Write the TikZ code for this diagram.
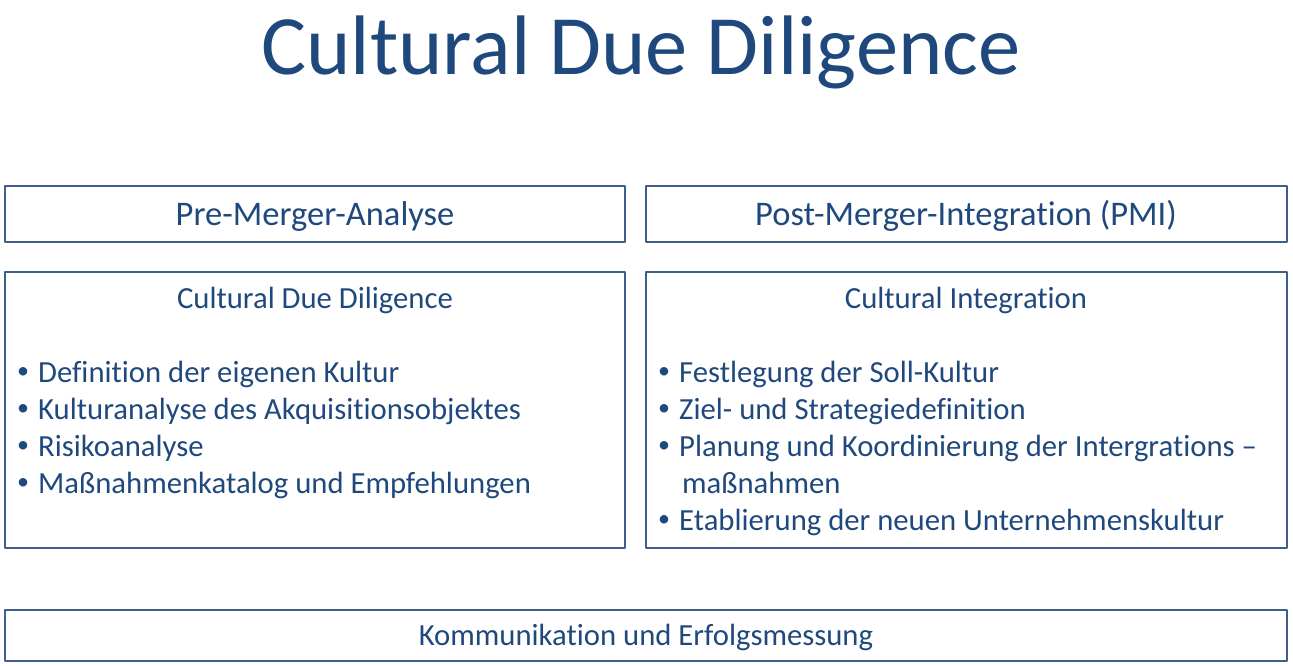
\documentclass[tikz,border=0pt]{standalone}
\usepackage{fontspec}
\setmainfont{Carlito}[RawFeature={-liga;-clig}]
\definecolor{txtblue}{HTML}{1F497D}
\definecolor{boxblue}{HTML}{3C5F8C}
\begin{document}
\begin{tikzpicture}[x=1pt,y=-1pt, line join=round, text=txtblue,
	box/.style={draw=boxblue,line width=1.6pt},
	head/.style={anchor=base,inner sep=0pt,font=\fontsize{34.5}{40}\selectfont},
	sub/.style={anchor=base,inner sep=0pt,font=\fontsize{30.7}{36}\selectfont},
	item/.style={anchor=base west,inner sep=0pt,font=\fontsize{30.7}{36}\selectfont},
	dot/.style={anchor=center,inner sep=0pt,font=\fontsize{24}{24}\selectfont}]
	\def\xl{5} \def\xm{625} \def\xn{646} \def\xr{1287} % Spalten
	\useasboundingbox (0,0) rectangle (1293,666);
	% Titel
	\node[anchor=base,inner sep=0pt,font=\fontsize{84.5}{96}\selectfont] (titel) at (641,75) {Cultural Due Diligence};
	% Kopfzeilen
	\draw[box] (\xl,186) rectangle (\xm,242);
	\draw[box] (\xn,186) rectangle (\xr,242);
	\node[head] (pre) at (315,225) {Pre-Merger-Analyse};
	\node[head] (post) at (966,225) {Post-Merger-Integration (PMI)};
	% Inhalt links
	\draw[box] (\xl,272) rectangle (\xm,548);
	\node[sub] (cdd) at (315,308) {Cultural Due Diligence};
	\foreach \t [count=\i] in {Definition der eigenen Kultur,Kulturanalyse des Akquisitionsobjektes,Risikoanalyse,Maßnahmenkatalog und Empfehlungen}{
		\node[dot] (bl\i) at (23,336+37*\i) {•};
		\node[item] (l\i) at (38,345+37*\i) {\t};
	}
	% Inhalt rechts
	\draw[box] (\xn,272) rectangle (\xr,548);
	\node[sub] (ci) at (966,308) {Cultural Integration};
	\foreach \t [count=\i] in {Festlegung der Soll-Kultur,Ziel- und Strategiedefinition,Planung und Koordinierung der Intergrations –}{
		\node[dot] (br\i) at (664,336+37*\i) {•};
		\node[item] (r\i) at (679,345+37*\i) {\t};
	}
	\node[item] (r4) at (682,493) {maßnahmen};
	\node[dot] (br5) at (664,521) {•};
	\node[item] (r5) at (679,530) {Etablierung der neuen Unternehmenskultur};
	% Fusszeile
	\draw[box] (\xl,610) rectangle (\xr,661);
	\node[sub] (komm) at (646,645) {Kommunikation und Erfolgsmessung};
\end{tikzpicture}
\end{document}
